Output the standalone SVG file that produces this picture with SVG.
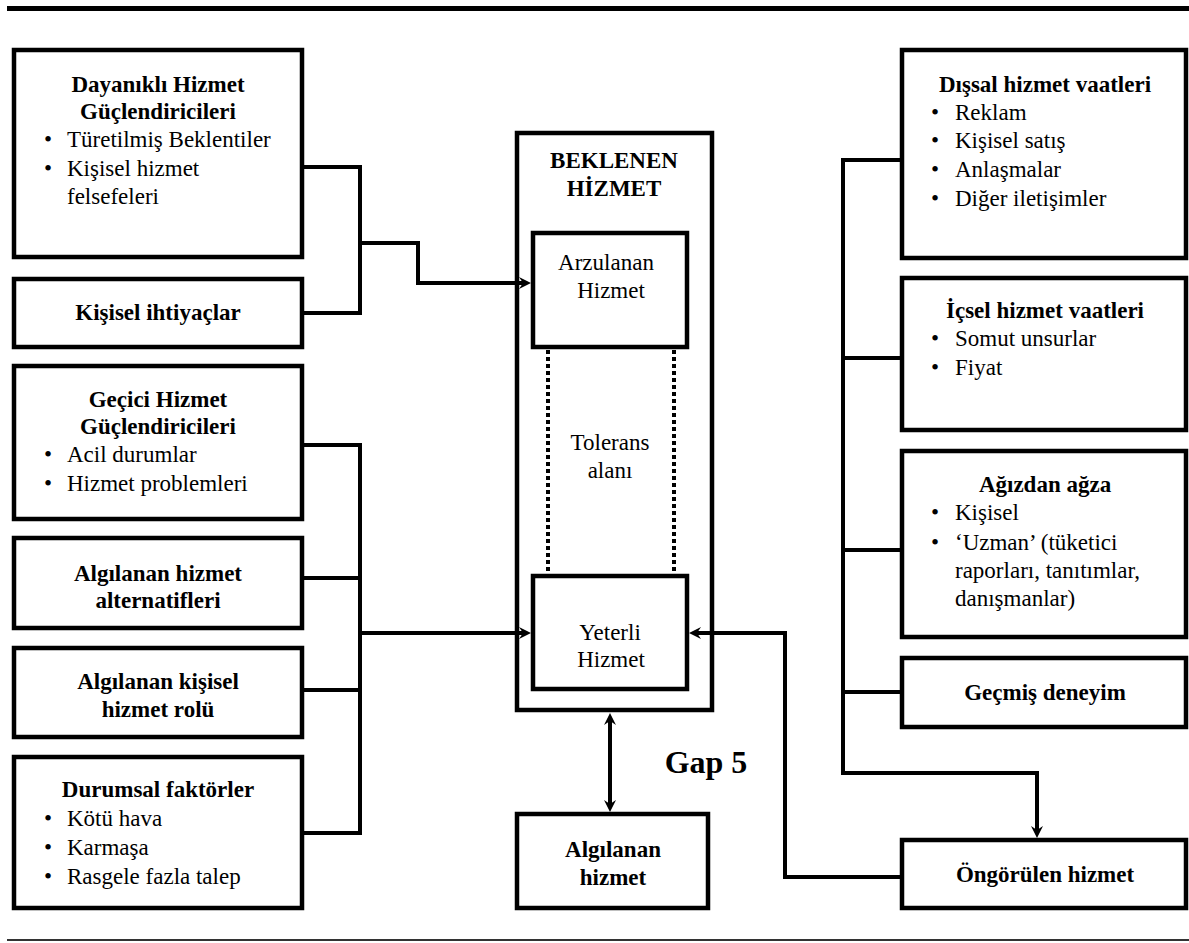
<svg xmlns="http://www.w3.org/2000/svg" width="1189" height="943" viewBox="0 0 1189 943">
  <style>
    .box { fill: #fff; stroke: #000; stroke-width: 4.5; }
    .frame { fill: none; stroke: #000; stroke-width: 4.5; }
    .wire { fill: none; stroke: #000; stroke-width: 4; stroke-linejoin: miter; }
    .dots { fill: none; stroke: #000; stroke-width: 4; stroke-dasharray: 4 3; }
    text { font-family: "Liberation Serif", "Times New Roman", serif; font-size: 23px; fill: #000; }
    .b { font-weight: bold; }
    .c { text-anchor: middle; }
    .gap { font-size: 32px; font-weight: bold; }
  </style>
  <defs>
    <marker id="arrow" viewBox="0 0 12 12" refX="6" refY="6" markerWidth="12" markerHeight="12" markerUnits="userSpaceOnUse" orient="auto-start-reverse">
      <path d="M0,0 L12,6 L0,12 L4,6 z" fill="#000"/>
    </marker>
  </defs>

  <!-- page rules -->
  <rect x="7" y="6" width="1182" height="5" fill="#000"/>
  <rect x="7" y="939" width="1182" height="2" fill="#333"/>

  <!-- connectors -->
  <g id="connectors">
    <path class="wire" d="M302,167 H360 V313 H302"/>
    <path class="wire" d="M360,243 H418 V283 H525" marker-end="url(#arrow)"/>
    <path class="wire" d="M302,445 H360 V833 H302"/>
    <path class="wire" d="M302,578 H360"/>
    <path class="wire" d="M302,690 H360"/>
    <path class="wire" d="M360,633 H525" marker-end="url(#arrow)"/>
    <path class="wire" d="M902,160 H843 V773 H1037 V832" marker-end="url(#arrow)"/>
    <path class="wire" d="M843,358 H902"/>
    <path class="wire" d="M843,550 H902"/>
    <path class="wire" d="M843,692 H902"/>
    <path class="wire" d="M902,877 H785 V633 H695" marker-end="url(#arrow)"/>
    <path class="wire" d="M610,719 V806" marker-start="url(#arrow)" marker-end="url(#arrow)"/>
  </g>

  <!-- left column -->
  <g id="dayanikli">
    <rect class="box" x="14" y="50" width="288" height="207"/>
    <text class="b c" x="158" y="92">Dayanıklı Hizmet</text>
    <text class="b c" x="158" y="119">Güçlendiricileri</text>
    <text class="c" x="48" y="147">•</text><text x="67" y="147">Türetilmiş Beklentiler</text>
    <text class="c" x="48" y="176">•</text><text x="67" y="176">Kişisel hizmet</text>
    <text x="67" y="204">felsefeleri</text>
  </g>
  <g id="ihtiyaclar">
    <rect class="box" x="14" y="279" width="288" height="68"/>
    <text class="b c" x="158" y="320">Kişisel ihtiyaçlar</text>
  </g>
  <g id="gecici">
    <rect class="box" x="14" y="366" width="288" height="153"/>
    <text class="b c" x="158" y="407">Geçici Hizmet</text>
    <text class="b c" x="158" y="434">Güçlendiricileri</text>
    <text class="c" x="48" y="462">•</text><text x="67" y="462">Acil durumlar</text>
    <text class="c" x="48" y="491">•</text><text x="67" y="491">Hizmet problemleri</text>
  </g>
  <g id="alternatifler">
    <rect class="box" x="14" y="538" width="288" height="90"/>
    <text class="b c" x="158" y="581">Algılanan hizmet</text>
    <text class="b c" x="158" y="608">alternatifleri</text>
  </g>
  <g id="rol">
    <rect class="box" x="14" y="648" width="288" height="89"/>
    <text class="b c" x="158" y="689">Algılanan kişisel</text>
    <text class="b c" x="158" y="717">hizmet rolü</text>
  </g>
  <g id="durumsal">
    <rect class="box" x="14" y="757" width="288" height="151"/>
    <text class="b c" x="158" y="797">Durumsal faktörler</text>
    <text class="c" x="48" y="826">•</text><text x="67" y="826">Kötü hava</text>
    <text class="c" x="48" y="855">•</text><text x="67" y="855">Karmaşa</text>
    <text class="c" x="48" y="884">•</text><text x="67" y="884">Rasgele fazla talep</text>
  </g>

  <!-- centre column -->
  <g id="beklenen">
    <rect class="frame" x="517" y="133" width="195" height="577"/>
    <text class="b c" x="614" y="168">BEKLENEN</text>
    <text class="b c" x="614" y="196">HİZMET</text>
  </g>
  <g id="arzulanan">
    <rect class="box" x="533" y="233" width="154" height="114"/>
    <text class="c" x="606" y="270">Arzulanan</text>
    <text class="c" x="611" y="298">Hizmet</text>
  </g>
  <g id="tolerans">
    <path class="dots" d="M548,350 V574 M674,350 V574"/>
    <text class="c" x="610" y="450">Tolerans</text>
    <text class="c" x="610" y="478">alanı</text>
  </g>
  <g id="yeterli">
    <rect class="box" x="533" y="576" width="154" height="113"/>
    <text class="c" x="610" y="640">Yeterli</text>
    <text class="c" x="611" y="667">Hizmet</text>
  </g>
  <g id="gap5">
    <text class="gap c" x="706" y="773">Gap 5</text>
  </g>
  <g id="algilanan">
    <rect class="box" x="517" y="814" width="191" height="94"/>
    <text class="b c" x="613" y="857">Algılanan</text>
    <text class="b c" x="613" y="885">hizmet</text>
  </g>

  <!-- right column -->
  <g id="dissal">
    <rect class="box" x="902" y="50" width="284" height="208"/>
    <text class="b c" x="1045" y="92">Dışsal hizmet vaatleri</text>
    <text class="c" x="935" y="120">•</text><text x="955" y="120">Reklam</text>
    <text class="c" x="935" y="148">•</text><text x="955" y="148">Kişisel satış</text>
    <text class="c" x="935" y="177">•</text><text x="955" y="177">Anlaşmalar</text>
    <text class="c" x="935" y="206">•</text><text x="955" y="206">Diğer iletişimler</text>
  </g>
  <g id="icsel">
    <rect class="box" x="902" y="278" width="284" height="152"/>
    <text class="b c" x="1045" y="318">İçsel hizmet vaatleri</text>
    <text class="c" x="935" y="346">•</text><text x="955" y="346">Somut unsurlar</text>
    <text class="c" x="935" y="375">•</text><text x="955" y="375">Fiyat</text>
  </g>
  <g id="agizdan">
    <rect class="box" x="902" y="451" width="284" height="186"/>
    <text class="b c" x="1045" y="492">Ağızdan ağza</text>
    <text class="c" x="935" y="520">•</text><text x="955" y="520">Kişisel</text>
    <text class="c" x="935" y="550">•</text><text x="955" y="550">‘Uzman’ (tüketici</text>
    <text x="955" y="578">raporları, tanıtımlar,</text>
    <text x="955" y="606">danışmanlar)</text>
  </g>
  <g id="gecmis">
    <rect class="box" x="902" y="658" width="284" height="69"/>
    <text class="b c" x="1045" y="700">Geçmiş deneyim</text>
  </g>
  <g id="ongorulen">
    <rect class="box" x="902" y="840" width="284" height="68"/>
    <text class="b c" x="1045" y="882">Öngörülen hizmet</text>
  </g>
</svg>
